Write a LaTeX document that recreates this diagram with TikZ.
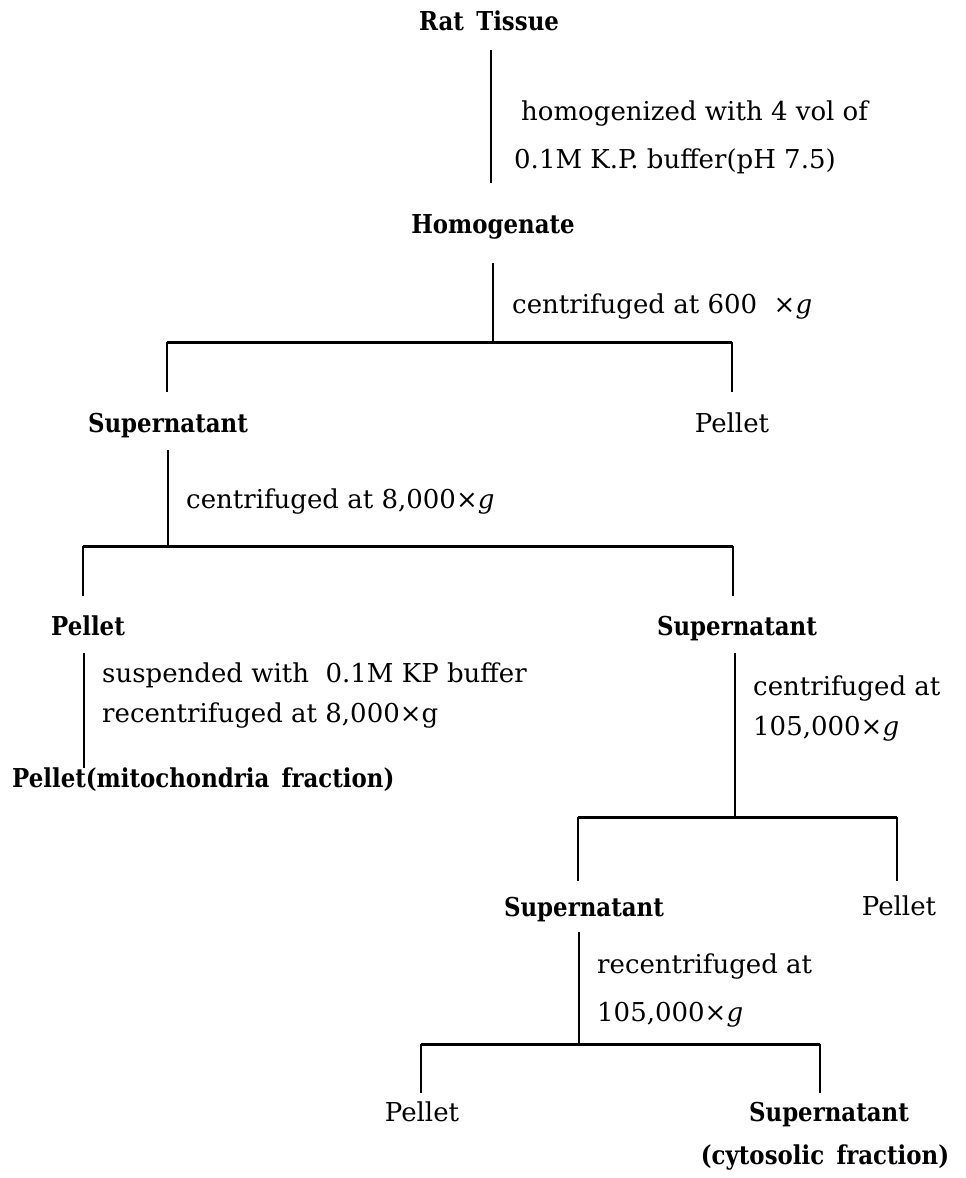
\documentclass[tikz,border=0pt]{standalone}
\usepackage{fontspec}
\setmainfont{DejaVu Serif}[BoldFeatures={FakeStretch=0.88}]
\begin{document}
\begin{tikzpicture}[x=1pt,y=-1pt,
  txt/.style={inner sep=0pt, anchor=base, font=\fontsize{26}{31}\selectfont},
  bld/.style={inner sep=0pt, anchor=base, font=\fontsize{26}{31}\selectfont\bfseries},
  note/.style={txt, anchor=base west},
  vline/.style={line width=2.4pt},
  hline/.style={line width=3pt}]
\useasboundingbox (0,0) rectangle (966,1178);
% texts
\node[bld] (rat) at (489,30) {Rat \,Tissue};
\node[note] (h1) at (521,120) {homogenized with 4 vol of};
\node[note] (h2) at (514,168) {0.1M K.P. buffer(pH 7.5)};
\node[bld] (hom) at (493,233) {Homogenate};
\node[note] (c600) at (512,313) {centrifuged at 600 \ ×\textit{g}};
\node[bld] (sup1) at (168,432) {Supernatant};
\node[txt] (pel1) at (732,432) {Pellet};
\node[note] (c8000) at (186,508) {centrifuged at 8,000×\textit{g}};
\node[bld] (pel2) at (88,635) {Pellet};
\node[bld] (sup2) at (737,635) {Supernatant};
\node[note] (susp) at (102,682) {suspended with \ 0.1M KP buffer};
\node[note] (rec8) at (102,722) {recentrifuged at 8,000×g};
\node[bld, anchor=base west] (mito) at (12,787) {Pellet(mitochondria \,fraction)};
\node[note] (cat) at (753,695) {centrifuged at};
\node[note] (c105a) at (753,735) {105,000×\textit{g}};
\node[bld] (sup3) at (584,916) {Supernatant};
\node[txt] (pel3) at (899,915) {Pellet};
\node[note] (rcat) at (597,973) {recentrifuged at};
\node[note] (c105b) at (597,1021) {105,000×\textit{g}};
\node[txt] (pel4) at (422,1121) {Pellet};
\node[bld] (sup4) at (829,1121) {Supernatant};
\node[bld] (cyto) at (825,1164) {(cytosolic \,fraction)};
% connector points
\coordinate (a1) at (491,50);  \coordinate (a2) at (491,183);
\coordinate (b1) at (493,263); \coordinate (b2) at (493,342);
\coordinate (b1l) at (167,342); \coordinate (b1r) at (732,342);
\coordinate (b1ld) at (167,392); \coordinate (b1rd) at (732,392);
\coordinate (c1) at (168,450); \coordinate (c2) at (168,546);
\coordinate (c1l) at (83,546); \coordinate (c1r) at (733,546);
\coordinate (c1ld) at (83,596); \coordinate (c1rd) at (733,596);
\coordinate (d1) at (84,653); \coordinate (d2) at (84,768);
\coordinate (e1) at (735,653); \coordinate (e2) at (735,817);
\coordinate (e1l) at (578,817); \coordinate (e1r) at (897,817);
\coordinate (e1ld) at (578,881); \coordinate (e1rd) at (897,881);
\coordinate (f1) at (579,932); \coordinate (f2) at (579,1044);
\coordinate (f1l) at (421,1044); \coordinate (f1r) at (820,1044);
\coordinate (f1ld) at (421,1093); \coordinate (f1rd) at (820,1093);
% connectors
\draw[vline] (a1) -- (a2);
\draw[vline] (b1) -- (b2);
\draw[hline] (b1l) -- (b1r);
\draw[vline] (b1l) -- (b1ld);
\draw[vline] (b1r) -- (b1rd);
\draw[vline] (c1) -- (c2);
\draw[hline] (c1l) -- (c1r);
\draw[vline] (c1l) -- (c1ld);
\draw[vline] (c1r) -- (c1rd);
\draw[vline] (d1) -- (d2);
\draw[vline] (e1) -- (e2);
\draw[hline] (e1l) -- (e1r);
\draw[vline] (e1l) -- (e1ld);
\draw[vline] (e1r) -- (e1rd);
\draw[vline] (f1) -- (f2);
\draw[hline] (f1l) -- (f1r);
\draw[vline] (f1l) -- (f1ld);
\draw[vline] (f1r) -- (f1rd);
\end{tikzpicture}
\end{document}
